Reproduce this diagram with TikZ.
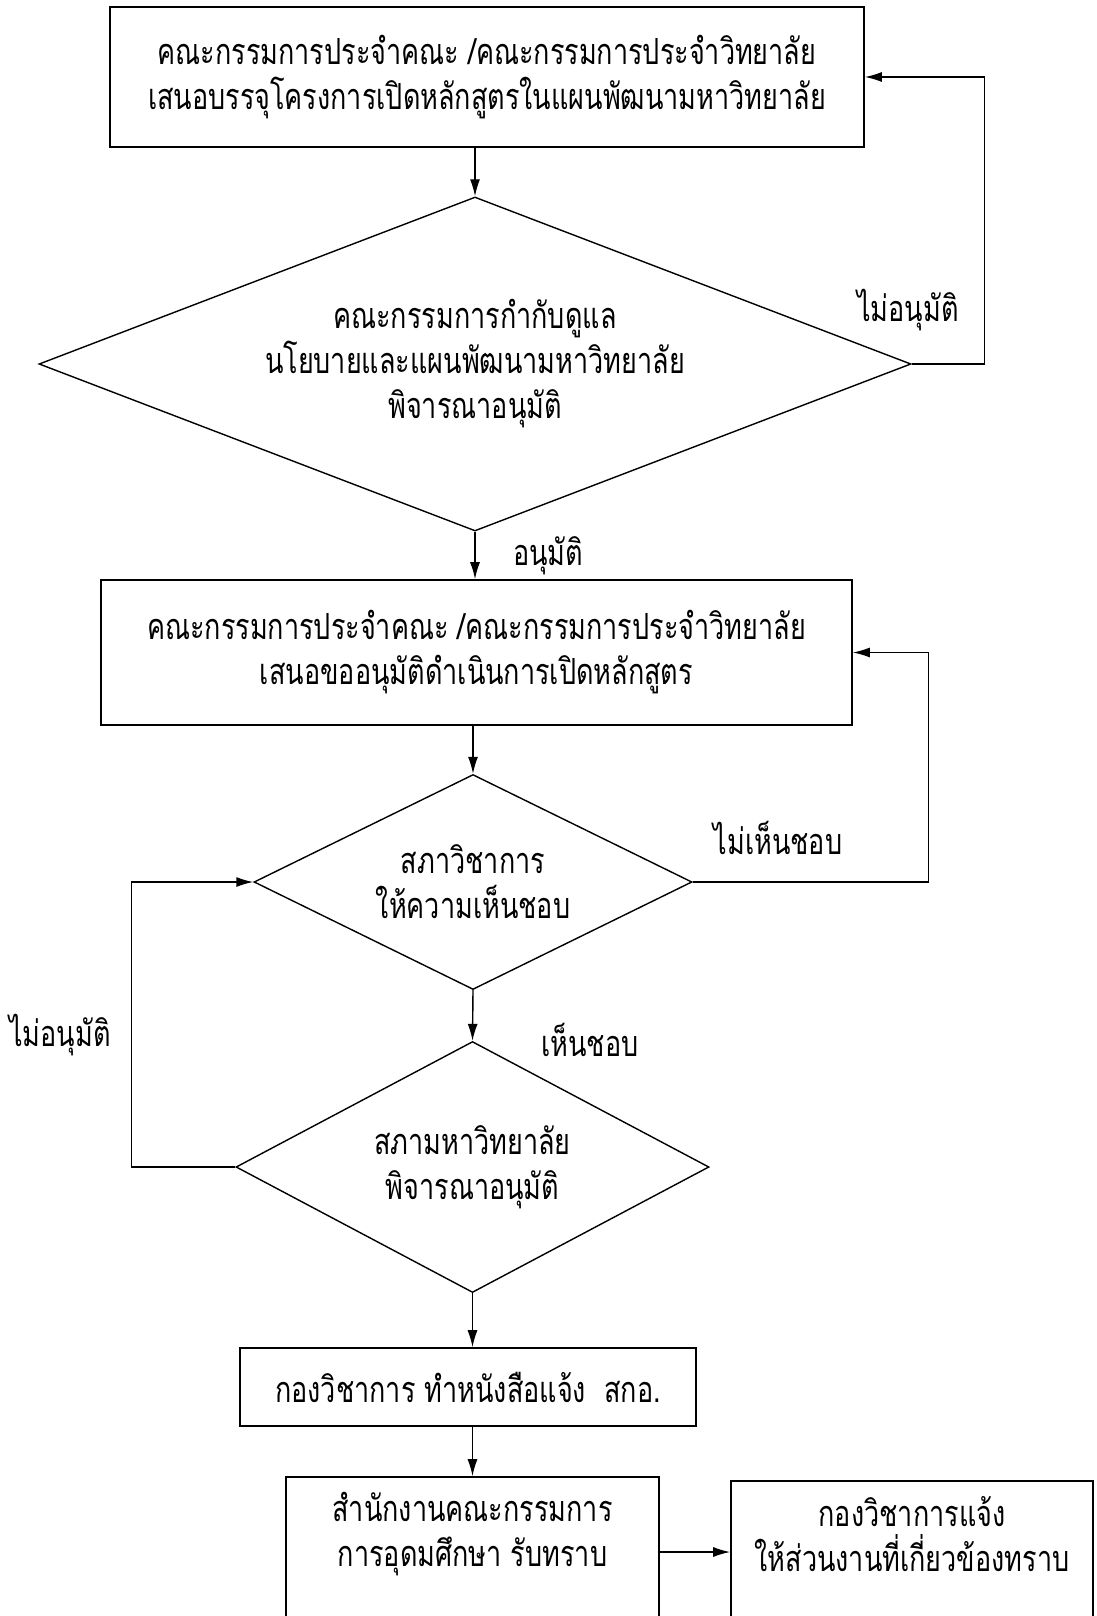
\documentclass[tikz,border=0pt]{standalone}
\usepackage{fontspec}
\newfontfamily\thaifont[Script=Thai,FakeStretch=0.75]{Loma}
\usetikzlibrary{shapes.geometric,arrows.meta}

\tikzset{
  flowbox/.style={draw, line width=1.6pt, rectangle, inner sep=0pt, align=center},
  decision/.style={draw, line width=1.4pt, diamond, inner sep=0pt, align=center},
  flowarrow/.style={line width=1.4pt, -{Latex[length=17pt,width=10pt]}},
  flowlabel/.style={inner sep=0pt},
}

\begin{document}
\begin{tikzpicture}[x=1pt, y=-1pt, every node/.style={font=\thaifont\fontsize{36}{45}\selectfont}]
  \useasboundingbox (0,0) rectangle (1096,1616);
  % boxes and decisions
  \node[flowbox, minimum width=754pt, minimum height=140pt] (box1) at (487,77) {คณะกรรมการประจำคณะ /คณะกรรมการประจำวิทยาลัย\\เสนอบรรจุโครงการเปิดหลักสูตรในแผนพัฒนามหาวิทยาลัย};
  \node[decision, shape aspect=2.6, minimum width=872pt, minimum height=334pt] (d1) at (475,364) {คณะกรรมการกำกับดูแล\\นโยบายและแผนพัฒนามหาวิทยาลัย\\พิจารณาอนุมัติ};
  \node[flowbox, minimum width=751pt, minimum height=145pt] (box2) at (476.5,652.5) {คณะกรรมการประจำคณะ /คณะกรรมการประจำวิทยาลัย\\เสนอขออนุมัติดำเนินการเปิดหลักสูตร};
  \node[decision, shape aspect=2.04, minimum width=438pt, minimum height=215pt] (d2) at (473,882) {สภาวิชาการ\\ให้ความเห็นชอบ};
  \node[decision, shape aspect=1.88, minimum width=473pt, minimum height=251pt] (d3) at (472.5,1167) {สภามหาวิทยาลัย\\พิจารณาอนุมัติ};
  \node[flowbox, minimum width=456pt, minimum height=78pt] (box4) at (468,1387) {กองวิชาการ ทำหนังสือแจ้ง~~สกอ.};
  \node[flowbox, minimum width=373pt, minimum height=150pt] (box5) at (472.5,1552) {สำนักงานคณะกรรมการ\\การอุดมศึกษา รับทราบ\\ \mbox{}};
  \node[flowbox, minimum width=362pt, minimum height=150pt] (box6) at (912,1556) {กองวิชาการแจ้ง\\ให้ส่วนงานที่เกี่ยวข้องทราบ\\ \mbox{}};
  % labels
  \node[flowlabel] (noapprove1) at (908,310) {ไม่อนุมัติ};
  \node[flowlabel] (approve) at (548,556) {อนุมัติ};
  \node[flowlabel] (disagree) at (778,838) {ไม่เห็นชอบ};
  \node[flowlabel] (agree) at (590,1040) {เห็นชอบ};
  \node[flowlabel] (noapprove2) at (60,1035) {ไม่อนุมัติ};
  % connectors
  \draw[flowarrow] (box1.south -| d1.north) -- (d1.north);
  \draw[flowarrow] (d1.south) -- (d1.south |- box2.north);
  \draw[flowarrow] (d1.east) -- ++(73,0) |- (box1.east);
  \draw[flowarrow] (box2.south -| d2.north) -- (d2.north);
  \draw[flowarrow] (d2.east) -- ++(236,0) |- (box2.east);
  \draw[flowarrow] (d2.south) -- (d3.north);
  \draw[flowarrow] (d3.west) -- ++(-104,0) |- (d2.west);
  \draw[flowarrow] (d3.south) -- (d3.south |- box4.north);
  \draw[flowarrow] (box4.south -| box5.north) -- (box5.north);
  \draw[flowarrow] (box5.east) -- (box5.east -| box6.west);
\end{tikzpicture}
\end{document}
